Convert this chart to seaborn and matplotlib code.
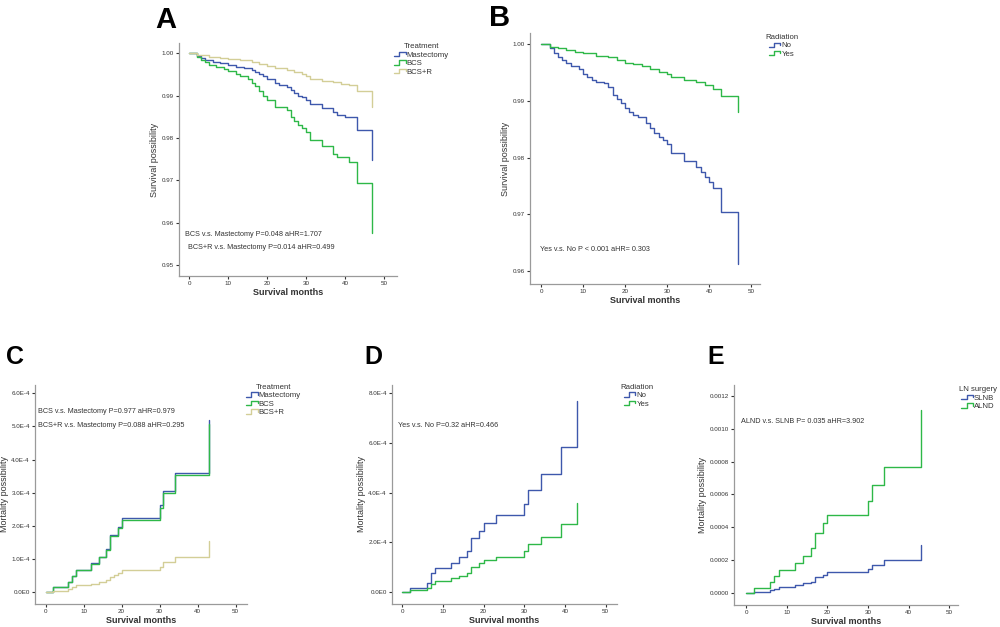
import numpy as np
import pandas as pd
import matplotlib
matplotlib.use('Agg')
import matplotlib.pyplot as plt
import seaborn as sns
from matplotlib.lines import Line2D
from matplotlib.legend_handler import HandlerBase

sns.set_style('ticks')
plt.rcParams['font.family'] = ['Liberation Sans', 'DejaVu Sans']

BLUE = '#3E58AC'
GREEN = '#2EB848'
BEIGE = '#D3CE97'

# --- Panel A: survival by treatment ---
a_mast_t = [0, 2, 3, 4, 6, 8, 10, 12, 14, 16, 17, 18, 19, 20, 22, 23, 25, 26, 27, 28, 29, 30, 31, 34, 37, 38, 40, 43, 47]
a_mast_v = [1.0, .9993, .9988, .9984, .9980, .9976, .9972, .9968, .9964, .9961, .9955, .9950, .9945, .9940,
            .9930, .9925, .9920, .9912, .9905, .9900, .9896, .9890, .9880, .9870, .9860, .9855, .9850, .9819, .9748]
a_bcs_t = [0, 2, 3, 4, 5, 7, 9, 10, 12, 13, 15, 16, 17, 18, 19, 20, 22, 25, 26, 27, 28, 29, 30, 31, 34, 37, 38, 41, 43, 47]
a_bcs_v = [1.0, .9990, .9984, .9978, .9972, .9967, .9962, .9957, .9951, .9945, .9938, .9930, .9922, .9910, .9900,
           .9890, .9874, .9866, .9850, .9840, .9830, .9823, .9815, .9795, .9780, .9762, .9755, .9744, .9693, .9575]
a_bcsr_t = [0, 2, 5, 8, 10, 13, 16, 18, 20, 22, 25, 27, 29, 30, 31, 34, 37, 39, 41, 43, 47]
a_bcsr_v = [1.0, .9996, .9992, .9989, .9986, .9983, .9980, .9975, .9969, .9965, .9960, .9955, .9950, .9946,
            .9939, .9935, .9933, .9928, .9925, .9910, .9874]

# --- Panel B: survival by radiation ---
b_no_t = [0, 2, 3, 4, 5, 6, 7, 9, 10, 11, 12, 13, 15, 16, 17, 18, 19, 20, 21, 22, 23, 25, 26, 27, 28, 29, 30, 31,
          34, 37, 38, 39, 40, 41, 43, 47]
b_no_v = [1.0, .9993, .9984, .9978, .9972, .9967, .9961, .9957, .9948, .9943, .9938, .9934, .9931, .9925, .9910,
          .9903, .9896, .9887, .9881, .9875, .9871, .9862, .9852, .9843, .9837, .9831, .9824, .9809, .9794, .9784,
          .9775, .9766, .9757, .9747, .9704, .9613]
b_yes_t = [0, 2, 4, 6, 8, 10, 13, 16, 18, 20, 22, 24, 26, 28, 30, 31, 34, 37, 39, 41, 43, 47]
b_yes_v = [1.0, .9996, .9993, .9990, .9987, .9984, .9980, .9977, .9972, .9968, .9965, .9962, .9957, .9952, .9948,
           .9942, .9937, .9934, .9928, .9922, .9908, .9881]

# --- Panel C: mortality by treatment (units of 1E-4) ---
c_t = [0, 2, 6, 7, 8, 12, 14, 16, 17, 19, 20, 30, 31, 34, 43]
c_mast_v = [0, 0.16, 0.31, 0.49, 0.68, 0.87, 1.07, 1.29, 1.72, 1.95, 2.23, 2.63, 3.05, 3.59, 5.20]
c_bcs_v = [0, 0.14, 0.30, 0.47, 0.66, 0.85, 1.05, 1.27, 1.70, 1.93, 2.18, 2.55, 2.99, 3.52, 5.08]
c_bcsr_t = [0, 2, 6, 7, 8, 12, 14, 16, 17, 18, 19, 20, 30, 31, 34, 43]
c_bcsr_v = [0, 0.04, 0.08, 0.15, 0.20, 0.25, 0.30, 0.35, 0.45, 0.52, 0.58, 0.66, 0.77, 0.90, 1.07, 1.55]

# --- Panel D: mortality by radiation (units of 1E-4) ---
d_t = [0, 2, 6, 7, 8, 12, 14, 16, 17, 19, 20, 23, 30, 31, 34, 39, 43]
d_no_v = [0, 0.17, 0.35, 0.75, 0.95, 1.15, 1.40, 1.66, 2.17, 2.46, 2.77, 3.09, 3.54, 4.10, 4.75, 5.83, 7.69]
d_yes_v = [0, 0.08, 0.17, 0.31, 0.46, 0.55, 0.64, 0.75, 1.02, 1.15, 1.29, 1.42, 1.66, 1.92, 2.23, 2.72, 3.57]

# --- Panel E: mortality by LN surgery (units of 1E-4) ---
e_t = [0, 2, 6, 7, 8, 12, 14, 16, 17, 19, 20, 30, 31, 34, 43]
e_slnb_v = [0, 0.10, 0.20, 0.28, 0.40, 0.49, 0.61, 0.71, 0.97, 1.11, 1.28, 1.50, 1.72, 2.02, 2.93]
e_alnd_v = [0, 0.34, 0.71, 1.05, 1.42, 1.82, 2.29, 2.73, 3.68, 4.25, 4.76, 5.63, 6.58, 7.69, 11.13]

x_ticks = [0, 10, 20, 30, 40, 50]
a_yticks = [0.95, 0.96, 0.97, 0.98, 0.99, 1.00]
b_yticks = [0.96, 0.97, 0.98, 0.99, 1.00]
c_yticks = [0, 1e-4, 2e-4, 3e-4, 4e-4, 5e-4, 6e-4]
c_ylabels = ['0.0E0', '1.0E-4', '2.0E-4', '3.0E-4', '4.0E-4', '5.0E-4', '6.0E-4']
d_yticks = [0, 2e-4, 4e-4, 6e-4, 8e-4]
d_ylabels = ['0.0E0', '2.0E-4', '4.0E-4', '6.0E-4', '8.0E-4']
e_yticks = [0, 2e-4, 4e-4, 6e-4, 8e-4, 10e-4, 12e-4]
e_ylabels = ['0.0000', '0.0002', '0.0004', '0.0006', '0.0008', '0.0010', '0.0012']


class StepHandler(HandlerBase):
    # SPSS-like little step glyph in the legend
    def create_artists(self, legend, orig_handle, xdescent, ydescent, width, height, fontsize, trans):
        x = np.array([0, 0.45, 0.45, 1.0, 1.0]) * width - xdescent
        y = np.array([0.1, 0.1, 0.85, 0.85, 0.45]) * height - ydescent
        line = Line2D(x, y, color=orig_handle.get_color(), lw=1)
        line.set_transform(trans)
        return [line]


def make_frame(groups, scale=1.0):
    rows = []
    for name, (t, v) in groups.items():
        rows += [(name, a, b * scale) for a, b in zip(t, v)]
    return pd.DataFrame(rows, columns=['group', 'month', 'value'])


def draw_panel(fig, rect, groups, colors, xlim, ylim, yticks, ylabels, ylabel,
               legend_title, legend_xy, notes, letter, letter_xy, letter_size, scale=1.0):
    ax = fig.add_axes(rect)
    df = make_frame(groups, scale)
    sns.lineplot(data=df, x='month', y='value', hue='group', palette=colors,
                 estimator=None, sort=False, drawstyle='steps-post', lw=1,
                 legend=False, ax=ax)
    ax.set_xlim(*xlim)
    ax.set_ylim(*ylim)
    ax.set_xticks(x_ticks)
    ax.set_xticklabels([str(v) for v in x_ticks])
    ax.set_yticks(yticks)
    ax.set_yticklabels(ylabels)
    sns.despine(ax=ax)
    for s in ['left', 'bottom']:
        ax.spines[s].set_color('#9a9a9a')
        ax.spines[s].set_linewidth(0.9)
    ax.tick_params(length=2.5, width=0.8, color='#333333', labelsize=4.5, pad=1.2, labelcolor='#333333')
    ax.set_xlabel('Survival months', fontsize=6.5, fontweight='bold', color='#333333', labelpad=1.5)
    ax.set_ylabel(ylabel, fontsize=6.5, color='#333333', labelpad=2)

    handles = [Line2D([], [], color=colors[g]) for g in groups]
    leg = ax.legend(handles, list(groups), title=legend_title, loc='upper left',
                    bbox_to_anchor=legend_xy, bbox_transform=fig.transFigure,
                    frameon=False, fontsize=5.6, title_fontsize=5.6, handlelength=1.5,
                    handleheight=0.8, handletextpad=0.15, labelspacing=0.1,
                    borderpad=0, borderaxespad=0, handler_map={Line2D: StepHandler()})
    for txt in leg.get_texts():
        txt.set_color('#333333')
    leg.get_title().set_color('#333333')

    for (nx, ny, s) in notes:
        ax.text(nx, ny, s, transform=ax.transAxes, fontsize=5.2, va='center', ha='left', color='#333333')

    fig.text(letter_xy[0], letter_xy[1], letter, fontsize=letter_size, fontweight='bold',
             ha='center', va='center', color='black')
    return ax


fig = plt.figure(figsize=(10, 6.27), dpi=100)

draw_panel(fig, [0.179, 0.5598, 0.218, 0.3716],
           {'Mastectomy': (a_mast_t, a_mast_v), 'BCS': (a_bcs_t, a_bcs_v), 'BCS+R': (a_bcsr_t, a_bcsr_v)},
           {'Mastectomy': BLUE, 'BCS': GREEN, 'BCS+R': BEIGE},
           (-2.6, 53.3), (0.9474, 1.0024), a_yticks, ['%.2f' % v for v in a_yticks],
           'Survival possibility', 'Treatment', (0.394, 0.931),
           [(0.028, 0.176, 'BCS v.s. Mastectomy P=0.048 aHR=1.707'),
            (0.041, 0.124, 'BCS+R v.s. Mastectomy P=0.014 aHR=0.499')],
           'A', (0.166, 0.968), 21)

draw_panel(fig, [0.530, 0.547, 0.230, 0.4003],
           {'No': (b_no_t, b_no_v), 'Yes': (b_yes_t, b_yes_v)},
           {'No': BLUE, 'Yes': GREEN},
           (-2.7, 52.2), (0.9577, 1.0020), b_yticks, ['%.2f' % v for v in b_yticks],
           'Survival possibility', 'Radiation', (0.765, 0.946),
           [(0.043, 0.139, 'Yes v.s. No P < 0.001 aHR= 0.303')],
           'B', (0.500, 0.971), 21)

draw_panel(fig, [0.035, 0.0367, 0.212, 0.3493],
           {'Mastectomy': (c_t, c_mast_v), 'BCS': (c_t, c_bcs_v), 'BCS+R': (c_bcsr_t, c_bcsr_v)},
           {'Mastectomy': BLUE, 'BCS': GREEN, 'BCS+R': BEIGE},
           (-2.8, 53.0), (-0.36e-4, 6.25e-4), c_yticks, c_ylabels,
           'Mortality possibility', 'Treatment', (0.246, 0.388),
           [(0.014, 0.881, 'BCS v.s. Mastectomy P=0.977 aHR=0.979'),
            (0.014, 0.817, 'BCS+R v.s. Mastectomy P=0.088 aHR=0.295')],
           'C', (0.015, 0.431), 18, scale=1e-4)

draw_panel(fig, [0.392, 0.0367, 0.225, 0.3493],
           {'No': (d_t, d_no_v), 'Yes': (d_t, d_yes_v)},
           {'No': BLUE, 'Yes': GREEN},
           (-2.5, 52.8), (-0.48e-4, 8.33e-4), d_yticks, d_ylabels,
           'Mortality possibility', 'Radiation', (0.620, 0.388),
           [(0.027, 0.813, 'Yes v.s. No P=0.32 aHR=0.466')],
           'D', (0.373, 0.431), 18, scale=1e-4)

draw_panel(fig, [0.734, 0.0351, 0.224, 0.3509],
           {'SLNB': (e_t, e_slnb_v), 'ALND': (e_t, e_alnd_v)},
           {'SLNB': BLUE, 'ALND': GREEN},
           (-2.95, 52.1), (-0.71e-4, 12.65e-4), e_yticks, e_ylabels,
           'Mortality possibility', 'LN surgery', (0.959, 0.384),
           [(0.031, 0.832, 'ALND v.s. SLNB P= 0.035 aHR=3.902')],
           'E', (0.716, 0.431), 18, scale=1e-4)

fig.savefig('out.png', dpi=100)
